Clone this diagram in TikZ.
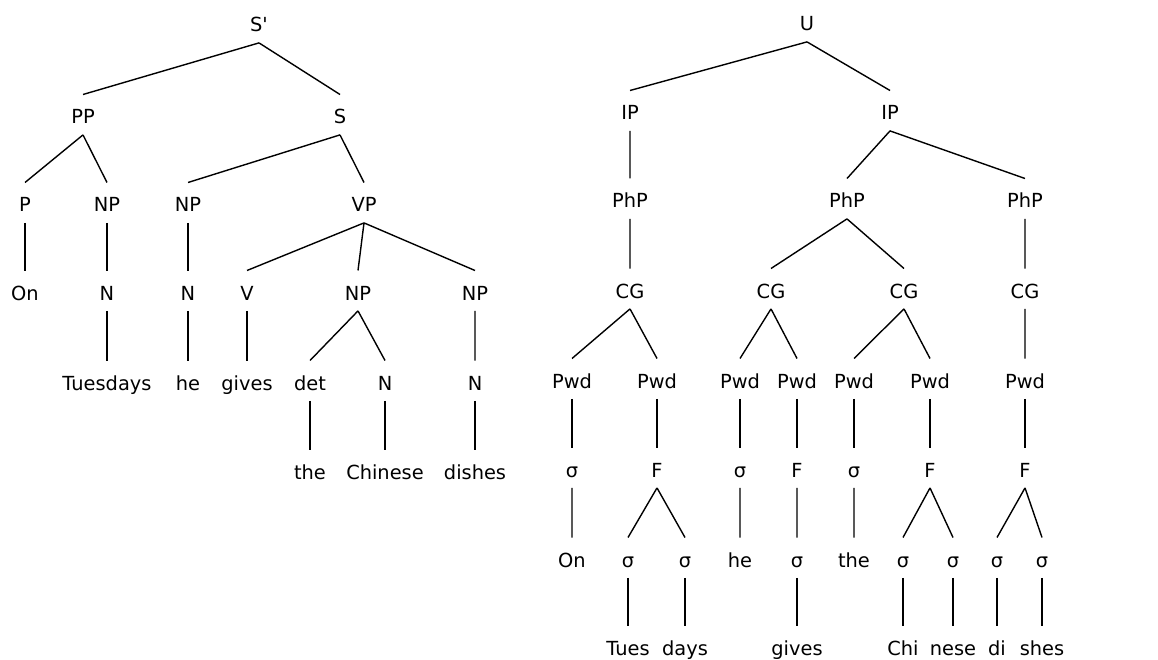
\documentclass[tikz,border=0pt]{standalone}
\usepackage{fontspec}
\setmainfont{DejaVu Sans}

\begin{document}
\begin{tikzpicture}[x=1pt,y=-1pt,line width=1.4pt,
	lab/.style={inner sep=0pt,anchor=base,text height=28.8pt,text depth=10.2pt,font=\fontsize{19.4}{22}\selectfont}]
		\useasboundingbox (0,0) rectangle (1158,660);
		
		% 句法树
		\node[lab] (sp) at (259,32) {S\textquotesingle};
		\node[lab] (pp) at (83,124) {PP};
		\node[lab] (s) at (340,124) {S};
		\node[lab] (p) at (25,212) {P};
		\node[lab] (npa) at (107,212) {NP};
		\node[lab] (npb) at (188,212) {NP};
		\node[lab] (vp) at (364,212) {VP};
		\node[lab] (on) at (25,300) {On};
		\node[lab] (na) at (107,300) {N};
		\node[lab] (nb) at (188,300) {N};
		\node[lab] (v) at (247,300) {V};
		\node[lab] (npc) at (358,300) {NP};
		\node[lab] (npd) at (475,300) {NP};
		\node[lab] (tues) at (107,390) {Tuesdays};
		\node[lab] (he) at (188,390) {he};
		\node[lab] (gives) at (247,390) {gives};
		\node[lab] (det) at (310,390) {det};
		\node[lab] (nc) at (385,390) {N};
		\node[lab] (nd) at (475,390) {N};
		\node[lab] (the) at (310,479) {the};
		\node[lab] (chin) at (385,479) {Chinese};
		\node[lab] (dish) at (475,479) {dishes};
		
		\draw (sp.south)--(pp.north) (sp.south)--(s.north);
		\draw (pp.south)--(p.north) (pp.south)--(npa.north);
		\draw (s.south)--(npb.north) (s.south)--(vp.north);
		\draw (p.south)--(on.north) (npa.south)--(na.north) (npb.south)--(nb.north);
		\draw (vp.south)--(v.north) (vp.south)--(npc.north) (vp.south)--(npd.north);
		\draw (na.south)--(tues.north) (nb.south)--(he.north) (v.south)--(gives.north);
		\draw (npc.south)--(det.north) (npc.south)--(nc.north) (npd.south)--(nd.north);
		\draw (det.south)--(the.north) (nc.south)--(chin.north) (nd.south)--(dish.north);
		
		% 韵律树
		\node[lab] (u) at (807,31) {U};
		\node[lab] (ipa) at (630,120) {IP};
		\node[lab] (ipb) at (890,120) {IP};
		\node[lab] (pha) at (630,208) {PhP};
		\node[lab] (phb) at (847,208) {PhP};
		\node[lab] (phc) at (1025,208) {PhP};
		\node[lab] (cga) at (630,298) {CG};
		\node[lab] (cgb) at (771,298) {CG};
		\node[lab] (cgc) at (904,298) {CG};
		\node[lab] (cgd) at (1025,298) {CG};
		\node[lab] (pwa) at (572,388) {Pwd};
		\node[lab] (pwb) at (657,388) {Pwd};
		\node[lab] (pwc) at (740,388) {Pwd};
		\node[lab] (pwd) at (797,388) {Pwd};
		\node[lab] (pwe) at (854,388) {Pwd};
		\node[lab] (pwf) at (930,388) {Pwd};
		\node[lab] (pwg) at (1025,388) {Pwd};
		\node[lab] (sa) at (572,477) {σ};
		\node[lab] (fa) at (657,477) {F};
		\node[lab] (sb) at (740,477) {σ};
		\node[lab] (fb) at (797,477) {F};
		\node[lab] (sc) at (854,477) {σ};
		\node[lab] (fc) at (930,477) {F};
		\node[lab] (fd) at (1025,477) {F};
		\node[lab] (ontwo) at (572,567) {On};
		\node[lab] (sone) at (628,567) {σ};
		\node[lab] (stwo) at (685,567) {σ};
		\node[lab] (hetwo) at (740,567) {he};
		\node[lab] (sthree) at (797,567) {σ};
		\node[lab] (thetwo) at (854,567) {the};
		\node[lab] (sfour) at (903,567) {σ};
		\node[lab] (sfive) at (953,567) {σ};
		\node[lab] (ssix) at (997,567) {σ};
		\node[lab] (sseven) at (1042,567) {σ};
		\node[lab] (tuestwo) at (628,655) {Tues};
		\node[lab] (days) at (685,655) {days};
		\node[lab] (givestwo) at (797,655) {gives};
		\node[lab] (chi) at (903,655) {Chi};
		\node[lab] (nese) at (953,655) {nese};
		\node[lab] (di) at (997,655) {di};
		\node[lab] (shes) at (1042,655) {shes};
		
		\draw (u.south)--(ipa.north) (u.south)--(ipb.north);
		\draw (ipa.south)--(pha.north) (ipb.south)--(phb.north) (ipb.south)--(phc.north);
		\draw (pha.south)--(cga.north) (phb.south)--(cgb.north) (phb.south)--(cgc.north) (phc.south)--(cgd.north);
		\draw (cga.south)--(pwa.north) (cga.south)--(pwb.north) (cgb.south)--(pwc.north) (cgb.south)--(pwd.north);
		\draw (cgc.south)--(pwe.north) (cgc.south)--(pwf.north) (cgd.south)--(pwg.north);
		\draw (pwa.south)--(sa.north) (pwb.south)--(fa.north) (pwc.south)--(sb.north) (pwd.south)--(fb.north);
		\draw (pwe.south)--(sc.north) (pwf.south)--(fc.north) (pwg.south)--(fd.north);
		\draw (sa.south)--(ontwo.north) (fa.south)--(sone.north) (fa.south)--(stwo.north) (sb.south)--(hetwo.north);
		\draw (fb.south)--(sthree.north) (sc.south)--(thetwo.north) (fc.south)--(sfour.north) (fc.south)--(sfive.north);
		\draw (fd.south)--(ssix.north) (fd.south)--(sseven.north);
		\draw (sone.south)--(tuestwo.north) (stwo.south)--(days.north) (sthree.south)--(givestwo.north);
		\draw (sfour.south)--(chi.north) (sfive.south)--(nese.north) (ssix.south)--(di.north) (sseven.south)--(shes.north);
	\end{tikzpicture}
\end{document}
